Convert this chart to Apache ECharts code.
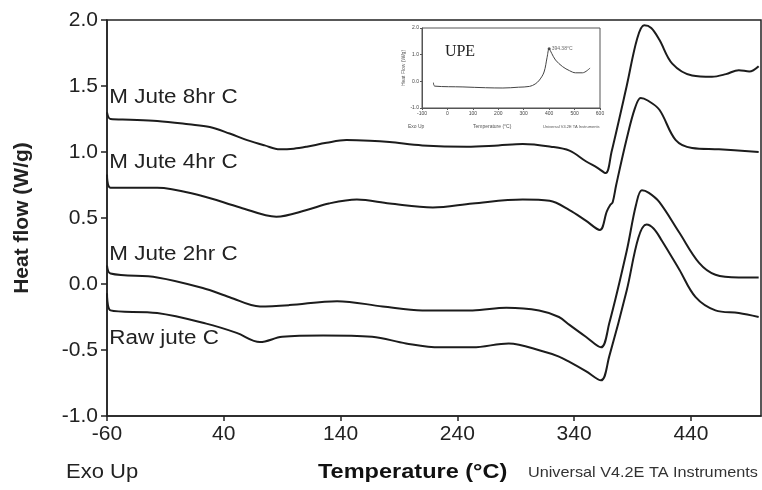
<!DOCTYPE html>
<html>
<head>
<meta charset="utf-8">
<script src="https://cdn.jsdelivr.net/npm/echarts@6/dist/echarts.min.js"></script>
<style>
html, body { margin: 0; padding: 0; background: #fff; }
#main { width: 762px; height: 490px; }
</style>
</head>
<body>
<div id="main"></div>
<script>
// 温度 (°C) 与热流 (W/g) 数据
var jute8hrT = [-60, -57, -40, -17, 10, 28, 45, 60, 75, 88, 100, 111, 128, 145, 165, 182, 210, 248, 275, 296, 320, 336, 350, 360, 367, 372, 385, 394, 400, 406, 413, 424, 441, 458, 470, 481, 490, 498];
var jute8hrV = [1.30, 1.25, 1.245, 1.235, 1.21, 1.19, 1.14, 1.09, 1.05, 1.02, 1.025, 1.04, 1.07, 1.09, 1.085, 1.075, 1.05, 1.04, 1.05, 1.06, 1.04, 1.01, 0.93, 0.88, 0.84, 1.00, 1.50, 1.86, 1.96, 1.94, 1.85, 1.67, 1.58, 1.57, 1.59, 1.62, 1.61, 1.65];

var jute4hrT = [-60, -57, -17, 20, 54, 85, 111, 130, 154, 182, 219, 253, 296, 319, 336, 350, 362, 368, 371, 373, 376, 385, 392, 397, 403, 413, 427, 441, 464, 498];
var jute4hrV = [0.83, 0.73, 0.73, 0.67, 0.58, 0.51, 0.56, 0.61, 0.64, 0.61, 0.58, 0.61, 0.64, 0.63, 0.56, 0.48, 0.41, 0.55, 0.60, 0.62, 0.75, 1.10, 1.33, 1.41, 1.39, 1.32, 1.09, 1.03, 1.02, 1.00];

var jute2hrT = [-60, -57, -17, 22, 45, 71, 96, 137, 176, 210, 253, 282, 310, 327, 336, 350, 363, 370, 385, 393, 398, 404, 413, 430, 447, 461, 481, 498];
var jute2hrV = [0.14, 0.08, 0.05, -0.03, -0.10, -0.17, -0.16, -0.13, -0.17, -0.20, -0.20, -0.18, -0.20, -0.25, -0.31, -0.40, -0.48, -0.30, 0.25, 0.60, 0.71, 0.69, 0.62, 0.39, 0.16, 0.07, 0.05, 0.05];

var rawJuteT = [-60, -57, -17, 25, 51, 71, 90, 125, 167, 196, 225, 253, 284, 313, 327, 336, 350, 363, 370, 385, 395, 402, 408, 415, 430, 444, 461, 481, 498];
var rawJuteV = [-0.07, -0.20, -0.22, -0.30, -0.37, -0.44, -0.40, -0.39, -0.40, -0.45, -0.48, -0.48, -0.45, -0.51, -0.55, -0.59, -0.66, -0.73, -0.55, -0.05, 0.35, 0.45, 0.42, 0.33, 0.11, -0.10, -0.20, -0.22, -0.25];

// 小图 UPE
var upeT = [-55, -50, 61, 150, 218, 280, 323, 345, 362, 380, 392, 400, 410, 425, 453, 480, 504, 531, 561];
var upeV = [-0.05, -0.18, -0.21, -0.24, -0.25, -0.22, -0.19, -0.10, 0.05, 0.35, 0.90, 1.22, 1.05, 0.80, 0.55, 0.40, 0.32, 0.32, 0.50];
var upePeak = [400, 1.22];

var seriesNames = ['M Jute 8hr C', 'M Jute 4hr C', 'M Jute 2hr C', 'Raw jute C'];
// 标签放置位置 (数据坐标)
var labelPos = [[-58, 1.41], [-58, 0.92], [-58, 0.22], [-58, -0.41]];

function pairs(t, v) {
	var out = [];
	for (var i = 0; i < t.length; i++) {
		out.push([t[i], v[i]]);
	}
	return out;
}

var lineColor = '#1c1c1c';
var font = 'Liberation Sans, Arial, sans-serif';

function mainLine(name, t, v) {
	return {
		name: name,
		type: 'line',
		xAxisIndex: 0,
		yAxisIndex: 0,
		data: pairs(t, v),
		showSymbol: false,
		smooth: 0.35,
		lineStyle: { color: lineColor, width: 2 },
		silent: true
	};
}

var option = {
	backgroundColor: '#fff',
	animation: false,
	grid: [{
		left: 107, right: 1, top: 20, bottom: 74,
		show: true, borderColor: '#222', borderWidth: 1.5
	}, {
		left: 422, top: 28, width: 178, height: 80,
		show: true, borderColor: '#555', borderWidth: 1, backgroundColor: '#fff'
	}],
	xAxis: [{
		type: 'value', gridIndex: 0,
		min: -60, max: 500, interval: 100,
		axisLine: { onZero: false, lineStyle: { color: '#222', width: 1.5 } },
		axisTick: { inside: false, length: 5, lineStyle: { color: '#222', width: 1.5 } },
		axisLabel: { showMaxLabel: false, color: '#222', fontSize: 21, fontFamily: font, margin: 8 },
		splitLine: { show: false }
	}, {
		type: 'value', gridIndex: 1,
		min: -100, max: 600, interval: 100,
		axisLine: { onZero: false, lineStyle: { color: '#555', width: 1 } },
		axisTick: { length: 2, lineStyle: { color: '#555' } },
		axisLabel: { color: '#444', fontSize: 5, fontFamily: font, margin: 3 },
		splitLine: { show: false }
	}],
	yAxis: [{
		type: 'value', gridIndex: 0,
		min: -1, max: 2, interval: 0.5,
		name: 'Heat flow (W/g)',
		nameLocation: 'middle',
		nameGap: 74,
		nameTextStyle: { color: '#222', fontSize: 21, fontWeight: 'bold', fontFamily: font },
		axisLine: { onZero: false, lineStyle: { color: '#222', width: 1.5 } },
		axisTick: { length: 6, lineStyle: { color: '#222', width: 1.5 } },
		axisLabel: {
			color: '#222', fontSize: 21, fontFamily: font, margin: 9,
			formatter: function(v) { return v.toFixed(1); }
		},
		splitLine: { show: false }
	}, {
		type: 'value', gridIndex: 1,
		min: -1, max: 2, interval: 1,
		name: 'Heat Flow (W/g)',
		nameLocation: 'middle',
		nameGap: 12,
		nameTextStyle: { color: '#555', fontSize: 5, fontFamily: font },
		axisLine: { onZero: false, lineStyle: { color: '#555', width: 1 } },
		axisTick: { length: 2, lineStyle: { color: '#555' } },
		axisLabel: {
			color: '#444', fontSize: 5, fontFamily: font, margin: 3,
			formatter: function(v) { return v.toFixed(1); }
		},
		splitLine: { show: false }
	}],
	series: [
		mainLine(seriesNames[0], jute8hrT, jute8hrV),
		mainLine(seriesNames[1], jute4hrT, jute4hrV),
		mainLine(seriesNames[2], jute2hrT, jute2hrV),
		mainLine(seriesNames[3], rawJuteT, rawJuteV),
		{
			name: 'UPE',
			type: 'line',
			xAxisIndex: 1,
			yAxisIndex: 1,
			data: pairs(upeT, upeV),
			showSymbol: false,
			smooth: 0.35,
			lineStyle: { color: '#444', width: 1 },
			silent: true
		},
		{
			name: 'UPE peak',
			type: 'scatter',
			xAxisIndex: 1,
			yAxisIndex: 1,
			data: [upePeak],
			symbolSize: 3,
			itemStyle: { color: '#222' },
			label: {
				show: true, position: 'right', distance: 1,
				formatter: '394.38°C', fontSize: 5, color: '#444', fontFamily: font
			},
			silent: true
		}
	]
};

var myChart = echarts.init(document.getElementById('main'), null, { renderer: 'canvas' });
myChart.setOption(option);

// 曲线名称与底部文字
var graphics = [];
for (var i = 0; i < seriesNames.length; i++) {
	var p = myChart.convertToPixel({ gridIndex: 0 }, labelPos[i]);
	graphics.push({
		type: 'text', x: p[0], y: p[1], scaleX: 1.12,
		style: { text: seriesNames[i], fill: '#222', font: '20px ' + font, textVerticalAlign: 'middle' }
	});
}
var upePos = myChart.convertToPixel({ gridIndex: 1 }, [-10, 1.1]);
graphics.push({
	type: 'text', x: upePos[0], y: upePos[1],
	style: { text: 'UPE', fill: '#222', font: '16px Liberation Serif, serif', textVerticalAlign: 'middle' }
});
graphics.push(
	{ type: 'text', x: 66, y: 472, scaleX: 1.1, style: { text: 'Exo Up', fill: '#222', font: '20px ' + font, textVerticalAlign: 'middle' } },
	{ type: 'text', x: 318, y: 472, scaleX: 1.12, style: { text: 'Temperature (°C)', fill: '#111', font: 'bold 21px ' + font, textVerticalAlign: 'middle' } },
	{ type: 'text', x: 528, y: 473, scaleX: 1.12, style: { text: 'Universal V4.2E TA Instruments', fill: '#333', font: '14.5px ' + font, textVerticalAlign: 'middle' } },
	{ type: 'text', x: 408, y: 127, style: { text: 'Exo Up', fill: '#555', font: '5px ' + font, textVerticalAlign: 'middle' } },
	{ type: 'text', x: 473, y: 127, style: { text: 'Temperature (°C)', fill: '#555', font: '5px ' + font, textVerticalAlign: 'middle' } },
	{ type: 'text', x: 543, y: 127, style: { text: 'Universal V4.2E TA Instruments', fill: '#555', font: '4px ' + font, textVerticalAlign: 'middle' } }
);
myChart.setOption({ graphic: graphics });
</script>
</body>
</html>
